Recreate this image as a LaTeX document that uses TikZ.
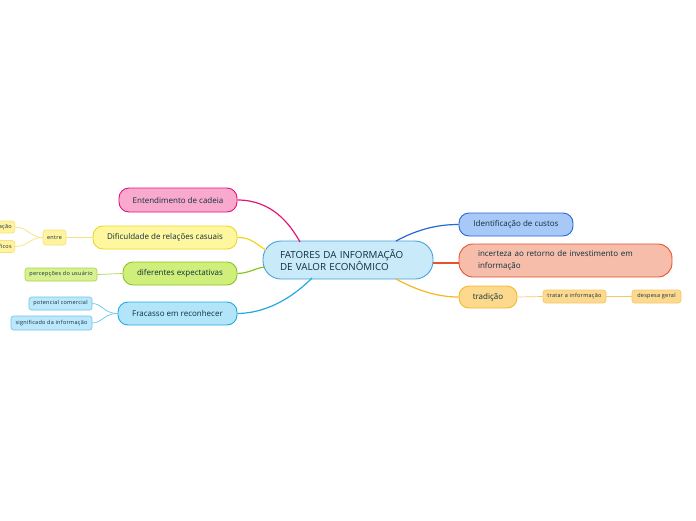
\documentclass[tikz,border=0pt]{standalone}
\usepackage{fontspec}
\setmainfont{Open Sans}
\usetikzlibrary{calc}
\definecolor{txt}{HTML}{0F2E3C}
\definecolor{pinkF}{HTML}{F9A9CD}\definecolor{pinkD}{HTML}{E6137A}
\definecolor{yelF}{HTML}{FFF6A0}\definecolor{yelD}{HTML}{F2D51C}
\definecolor{grnF}{HTML}{CFEE7A}\definecolor{grnD}{HTML}{8AC422}
\definecolor{cyF}{HTML}{B3E5FA}\definecolor{cyD}{HTML}{21A9E1}
\definecolor{bluF}{HTML}{A8C9F7}\definecolor{bluD}{HTML}{2468D6}
\definecolor{redF}{HTML}{F7BDAB}\definecolor{redD}{HTML}{E8512C}
\definecolor{orF}{HTML}{FCD98C}\definecolor{orD}{HTML}{F7B527}
\definecolor{cenF}{HTML}{C8EAF9}\definecolor{cenD}{HTML}{4B9ED9}
\definecolor{yelS}{HTML}{FFF3A0}\definecolor{yelSD}{HTML}{F5E27A}
\definecolor{grnS}{HTML}{D9F090}\definecolor{grnSD}{HTML}{A8D448}
\definecolor{cyS}{HTML}{BDE8FB}\definecolor{cySD}{HTML}{6CC4EA}
\definecolor{orS}{HTML}{FDD990}\definecolor{orSD}{HTML}{F8C860}
\tikzset{
  mainbox/.style={draw, line width=0.9pt, rounded corners=10pt, text=txt, font=\fontsize{8}{9}\selectfont, inner sep=0pt, anchor=center},
  subbox/.style={draw, line width=0.6pt, rounded corners=2.5pt, text=txt, font=\fontsize{5.5}{6}\selectfont\addfontfeature{LetterSpace=5}, inner sep=0pt, minimum height=13pt},
  mainline/.style={line width=1.2pt},
  subline/.style={line width=0.7pt}
}
\begin{document}
\begin{tikzpicture}[x=1pt,y=-1pt]
\useasboundingbox (0,0) rectangle (696,520);
% central
\node[draw=cenD, fill=cenF, line width=0.9pt, rounded corners=18pt, text=txt, font=\fontsize{9.8}{12.5}\selectfont, align=left, text width=136pt, inner xsep=17pt, minimum height=38pt, inner ysep=0pt] (c) at (348,260) {FATORES DA INFORMAÇÃO\\DE VALOR ECONÔMICO};
% left branches
\node[mainbox, draw=pinkD, fill=pinkF, minimum width=118pt, minimum height=24pt] (cadeia) at (178,200) {Entendimento de cadeia};
\node[mainbox, draw=yelD, fill=yelF, minimum width=144pt, minimum height=23pt] (dific) at (165,237.5) {Dificuldade de relações casuais};
\node[mainbox, draw=grnD, fill=grnF, minimum width=114pt, minimum height=23pt] (expect) at (180,273.5) {diferentes expectativas};
\node[mainbox, draw=cyD, fill=cyF, minimum width=119pt, minimum height=23pt] (fracasso) at (177.5,313.5) {Fracasso em reconhecer};
% right branches
\node[mainbox, draw=bluD, fill=bluF, minimum width=114pt, minimum height=23pt] (ident) at (516,224.5) {Identificação de custos};
\node[mainbox, draw=redD, fill=redF, rounded corners=14pt, minimum height=33pt, text width=175pt, inner xsep=19pt, align=left, font=\fontsize{8}{11.5}\selectfont] (incert) at (565.5,260.5) {incerteza ao retorno de investimento em\\informação};
\node[mainbox, draw=orD, fill=orF, minimum width=58pt, minimum height=22pt] (trad) at (488,297) {tradição};
% sub nodes
\node[subbox, draw=yelSD, fill=yelS, minimum width=23pt, minimum height=15pt] (entre) at (54.5,237.5) {entre};
\node[subbox, draw=yelSD, fill=yelS, anchor=east, minimum height=12pt, inner xsep=3pt] (acao) at (15,227) {\hspace*{20pt}ação};
\node[subbox, draw=yelSD, fill=yelS, anchor=east, minimum height=12pt, inner xsep=3pt] (ficos) at (15,246.5) {\hspace*{20pt}ficos};
\node[subbox, draw=grnSD, fill=grnS, minimum width=72pt] (perc) at (61,274.5) {percepções do usuário};
\node[subbox, draw=cySD, fill=cyS, minimum width=63pt] (pot) at (60.5,303.5) {potencial comercial};
\node[subbox, draw=cySD, fill=cyS, minimum width=81pt, minimum height=14pt] (sig) at (51.5,323) {significado da informação};
\node[subbox, draw=orSD, fill=orS, minimum width=63pt] (tratar) at (574.5,296.5) {tratar a informação};
\node[subbox, draw=orSD, fill=orS, minimum width=49pt] (despesa) at (656.5,296.5) {despesa geral};
% attachment points on the centre
\coordinate (cP) at (300,242);
\coordinate (cY) at (266,250);
\coordinate (cG) at (265,267);
\coordinate (cC) at (312,278);
\coordinate (cB) at (396,241);
\coordinate (cR) at (433,263);
\coordinate (cO) at (396,279);
% main connectors
\draw[mainline, pinkD] (cadeia.east) .. controls (272,200) and (290,224) .. (cP);
\draw[mainline, yelD] (dific.east) .. controls (252,237) and (258,246) .. (cY);
\draw[mainline, grnD] (expect.east) .. controls (250,273) and (255,268) .. (cG);
\draw[mainline, cyD] (fracasso.east) .. controls (272,313) and (298,292) .. (cC);
\draw[mainline, bluD] (cB) .. controls (420,228) and (440,224.5) .. (ident.west);
\draw[mainline, redD] (cR) -- (incert.west |- cR);
\draw[mainline, orD] (cO) .. controls (420,292) and (440,297) .. (trad.west);
% sub connectors
\draw[subline, yelSD] (entre.east) -- (dific.west);
\draw[subline, yelSD] (entre.west) .. controls (30,237.5) and (28,227) .. (acao.east);
\draw[subline, yelSD] (entre.west) .. controls (30,237.5) and (28,246.5) .. (ficos.east);
\draw[subline, grnSD] (perc.east) -- (expect.west);
\draw[subline, cySD] (fracasso.west) .. controls (104,313.5) and (102,303.5) .. (pot.east);
\draw[subline, cySD] (fracasso.west) .. controls (104,313.5) and (102,323) .. (sig.east);
\draw[subline, orSD] (trad.east) -- (tratar.west);
\draw[subline, orSD] (tratar.east) -- (despesa.west);
\end{tikzpicture}
\end{document}
